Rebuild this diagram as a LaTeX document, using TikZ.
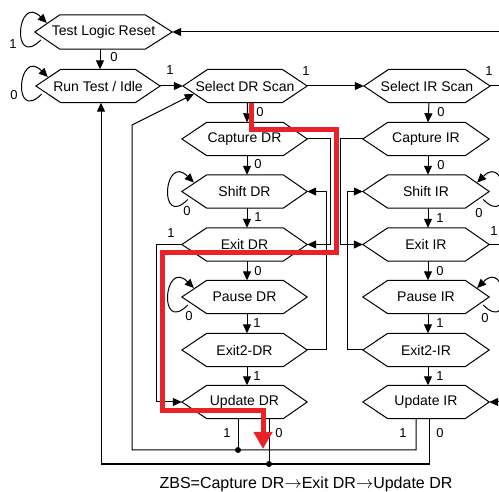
\documentclass[tikz,border=0pt]{standalone}
\usepackage{fontspec}
\setmainfont{Liberation Sans}
\usetikzlibrary{arrows.meta}
\definecolor{zbsred}{RGB}{232,34,40}
\newcommand\hexshape[3]{\draw[line] (#1.west) -- ([xshift=#2]#1.north west) -- ([xshift=-#3]#1.north east) -- (#1.east) -- ([xshift=-#3]#1.south east) -- ([xshift=#2]#1.south west) -- cycle;}
\newcommand\lloop[1]{\draw[arr] ([shift={(6,8)}]#1.west) .. controls +(-30,30) and +(-30,-30) .. ([shift={(12,-9)}]#1.west);}
\newcommand\rloop[1]{\draw[arr] ([shift={(-6,8)}]#1.east) .. controls +(30,30) and +(30,-30) .. ([shift={(-12,-9)}]#1.east);}
\begin{document}
\begin{tikzpicture}[x=1pt,y=-1pt,
  hexbox/.style={rectangle,draw=none,minimum height=33pt,inner sep=0pt,font=\fontsize{14}{16}\selectfont},
  line/.style={line width=1pt},
  arr/.style={line width=1pt,-{Triangle[length=9pt,width=8pt]}},
  lbl/.style={font=\fontsize{13}{15}\selectfont,inner sep=0pt},
  zbs/.style={draw=zbsred,line width=5pt,-{Triangle[length=17pt,width=18pt]}},
  dot/.style={circle,fill=black,inner sep=0pt,minimum size=6pt}]
\useasboundingbox (0,0) rectangle (499,492);
\clip (0,0) rectangle (499,492);

% nodes
\node[hexbox,minimum width=137pt,minimum height=34pt] (tlr) at (103.5,32) {Test Logic Reset};
\node[hexbox,minimum width=124pt] (rti) at (98,86) {Run Test / Idle};
\node[hexbox,minimum width=124pt] (sdr) at (245,86) {Select DR Scan};
\node[hexbox,minimum width=126pt] (sir) at (427,86) {Select IR Scan};
\node[hexbox,minimum width=125pt] (cdr) at (244.5,139) {Capture DR};
\node[hexbox,minimum width=126pt] (cir) at (426,139) {Capture IR};
\node[hexbox,minimum width=125pt] (shdr) at (244.5,191.5) {Shift DR};
\node[hexbox,minimum width=126pt] (shir) at (426,191.5) {Shift IR};
\node[hexbox,minimum width=125pt] (edr) at (244.5,244.5) {Exit DR};
\node[hexbox,minimum width=126pt] (eir) at (426,244.5) {Exit IR};
\node[hexbox,minimum width=125pt] (pdr) at (244.5,297) {Pause DR};
\node[hexbox,minimum width=126pt] (pir) at (426,297) {Pause IR};
\node[hexbox,minimum width=125pt] (e2dr) at (244.5,350) {Exit2-DR};
\node[hexbox,minimum width=126pt] (e2ir) at (426,350) {Exit2-IR};
\node[hexbox,minimum width=125pt] (udr) at (244.5,402) {Update DR};
\node[hexbox,minimum width=126pt] (uir) at (426,402) {Update IR};

\hexshape{tlr}{25pt}{27pt}
\hexshape{rti}{25pt}{25pt}
\hexshape{sdr}{25pt}{25pt}
\hexshape{sir}{25pt}{25pt}
\foreach \n in {cdr,cir,shdr,shir,edr,eir,pdr,pir,e2dr,e2ir,udr,uir}{\hexshape{\n}{25pt}{24pt}}

% coordinates
\coordinate (j1) at (238,450);
\coordinate (j0) at (269,464);
\coordinate (c1L) at (132,450);
\coordinate (c1U) at (132,125);
\coordinate (c0L) at (101,464);
\coordinate (sdrin) at ([shift={(11,8)}]sdr.west);

% self loops
\lloop{tlr}
\lloop{rti}
\lloop{shdr}
\lloop{pdr}
\rloop{shir}
\rloop{pir}

% top connectors
\draw[arr] ([xshift=-3.5pt]tlr.south) -- ([xshift=2pt]rti.north);
\draw[arr] (rti.east) -- (sdr.west);
\draw[arr] (sdr.east) -- (sir.west);
\draw[arr] (sir.east) -- ++(20,0) |- (tlr.east);

% column arrows
\foreach \a/\b in {sdr/cdr,cdr/shdr,shdr/edr,edr/pdr,pdr/e2dr,e2dr/udr}{
  \draw[arr] ([xshift=2.5pt]\a.south) -- ([xshift=2.5pt]\b.north);}
\foreach \a/\b in {sir/cir,cir/shir,shir/eir,eir/pir,pir/e2ir,e2ir/uir}{
  \draw[arr] ([xshift=2pt]\a.south) -- ([xshift=2pt]\b.north);}

% side routes DR
\draw[arr] (cdr.east) -- ++(23,0) |- (edr.east);
\draw[arr] (e2dr.east) -- ++(19,0) |- (shdr.east);
\draw[arr] (edr.west) -- ++(-25,0) |- (udr.west);
% side routes IR
\draw[arr] (cir.west) -- ++(-22,0) |- (eir.west);
\draw[arr] (e2ir.west) -- ++(-15,0) |- (shir.west);
\draw[arr] (eir.east) -- ++(20,0) |- (uir.east);

% update returns
\draw[arr] ([xshift=-10pt]uir.south) |- (c1L) -- (c1U) -- (sdrin);
\draw[line] ([xshift=-6.5pt]udr.south) -- (j1);
\draw[arr] ([xshift=3pt]uir.south) |- (c0L) -- ([xshift=3pt]rti.south);
\draw[line] ([xshift=24.5pt]udr.south) -- (j0);
\node[dot] (d1) at (j1) {};
\node[dot] (d0) at (j0) {};

% labels
\node[lbl] (l1) at (13,44) {1};
\node[lbl] (l2) at (114,57) {0};
\node[lbl] (l3) at (14,95) {0};
\node[lbl] (l4) at (170,70) {1};
\node[lbl] (l5) at (306,71) {1};
\node[lbl] (l6) at (489,71) {1};
\node[lbl] (l7) at (260,112) {0};
\node[lbl] (l8) at (441,112) {0};
\node[lbl] (l9) at (258,164) {0};
\node[lbl] (l10) at (441,165) {0};
\node[lbl] (l11) at (187,211) {0};
\node[lbl] (l12) at (479,213) {0};
\node[lbl] (l13) at (258,217) {1};
\node[lbl] (l14) at (440,218) {1};
\node[lbl] (l15) at (171,233) {1};
\node[lbl] (l16) at (494,231) {1};
\node[lbl] (l17) at (258,271) {0};
\node[lbl] (l18) at (440,271) {0};
\node[lbl] (l19) at (189,316) {0};
\node[lbl] (l20) at (485,318) {0};
\node[lbl] (l21) at (257,323) {1};
\node[lbl] (l22) at (440,323) {1};
\node[lbl] (l23) at (257,376) {1};
\node[lbl] (l24) at (440,376) {1};
\node[lbl] (l25) at (227,433) {1};
\node[lbl] (l26) at (279,433) {0};
\node[lbl] (l27) at (403,433) {1};
\node[lbl] (l28) at (440,433) {0};

% ZBS path
\coordinate (rend) at (263,449);
\draw[zbs] ([xshift=6.5pt]sdr.south) -- (251.5,130) -- (336,130) -- (336,253) -- (162,253) -- (162,411) -- (263,411) -- (rend);

% caption
\node[font=\fontsize{16}{18}\selectfont,anchor=base,inner sep=0pt] (cap) at (306,489) {ZBS=Capture DR$\rightarrow$Exit DR$\rightarrow$Update DR};
\end{tikzpicture}
\end{document}
